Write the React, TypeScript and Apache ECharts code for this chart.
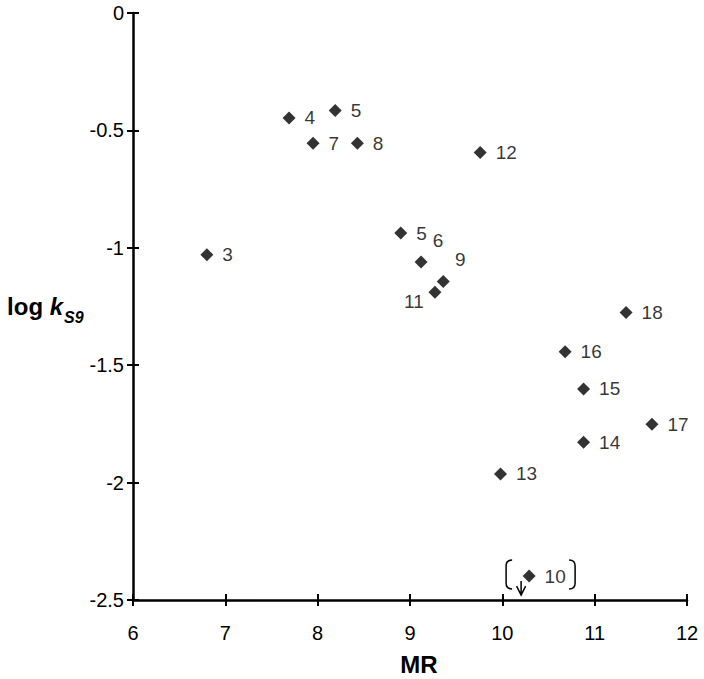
import React, { useEffect, useRef } from "react";
import * as echarts from "echarts";

// ---- data ----
const pointLabels = ["3", "4", "5", "7", "8", "12", "5", "6", "9", "11", "13", "14", "15", "16", "17", "18", "10"];
const mrValues = [6.8, 7.69, 8.19, 7.95, 8.43, 9.76, 8.9, 9.12, 9.36, 9.27, 9.98, 10.88, 10.88, 10.68, 11.62, 11.34, 10.29];
const logKValues = [-1.03, -0.447, -0.415, -0.555, -0.555, -0.594, -0.937, -1.061, -1.144, -1.189, -1.963, -1.828, -1.601, -1.443, -1.751, -1.276, -2.398];
// points shown as upper limits (bracketed, with a down arrow)
const upperLimitIdx = [16];

const xMin = 6, xMax = 12, xStep = 1;
const yMin = -2.5, yMax = 0, yStep = 0.5;
const xTitle = "MR";

// label placement tweaks (style, by point index)
const labelOffsets: Record<number, [number, number]> = {
  7: [17, -22],
  8: [17, -22],
  9: [-21, 9],
};

const FONT = "'Liberation Sans', Arial, sans-serif";

export default function App() {
  const ref = useRef<HTMLDivElement>(null);
  useEffect(() => {
    document.body.style.margin = "0";
    const chart = echarts.init(ref.current!, null, { renderer: "svg" });
    const data = mrValues.map((x, i) => {
      const item: any = { value: [x, logKValues[i]], name: pointLabels[i] };
      const off = labelOffsets[i];
      if (off) {
        item.label = { position: "inside", offset: off, align: "center", verticalAlign: "middle" };
      }
      return item;
    });
    const ulData = upperLimitIdx.map((i) => [mrValues[i], logKValues[i]]);
    const axisLine = { show: true, onZero: false, lineStyle: { color: "#000", width: 2.5 } };
    const tickStyle = { color: "#000", width: 2 };
    chart.setOption({
      animation: false,
      textStyle: { fontFamily: FONT },
      grid: { left: 133, right: 17, top: 13, bottom: 79, outerBoundsMode: "none" },
      xAxis: [
        {
          type: "value", position: "bottom", min: xMin, max: xMax, interval: xStep,
          axisLine, axisTick: { show: true, length: 6, lineStyle: tickStyle },
          splitLine: { show: false },
          axisLabel: { fontSize: 20, color: "#000", margin: 23, fontFamily: FONT },
          name: xTitle, nameLocation: "middle", nameGap: 52,
          nameTextStyle: { fontSize: 24, fontWeight: "bold", color: "#000", fontFamily: FONT, padding: [0, 0, 0, 18] },
        },
        {
          type: "value", position: "bottom", min: xMin, max: xMax, interval: xStep,
          axisLine: { show: false, onZero: false }, axisTick: { show: true, inside: true, length: 6, lineStyle: tickStyle },
          axisLabel: { show: false }, splitLine: { show: false },
        },
      ],
      yAxis: [
        {
          type: "value", position: "left", min: yMin, max: yMax, interval: yStep,
          axisLine, axisTick: { show: true, length: 6, lineStyle: tickStyle },
          splitLine: { show: false },
          axisLabel: { fontSize: 20, color: "#000", margin: 9, fontFamily: FONT },
          name: "{a|log }{b|k}{c|S9}", nameLocation: "middle", nameRotate: 0, nameGap: 46,
          nameTextStyle: {
            fontFamily: FONT,
            rich: {
              a: { fontSize: 24, fontWeight: "bold", color: "#000", fontFamily: FONT, lineHeight: 24 },
              b: { fontSize: 24, fontWeight: "bold", fontStyle: "italic", color: "#000", fontFamily: FONT, lineHeight: 24 },
              c: { fontSize: 16, fontWeight: "bold", fontStyle: "italic", color: "#000", fontFamily: FONT, lineHeight: 16, padding: [22, 0, 0, 1] },
            },
          },
        },
        {
          type: "value", position: "left", min: yMin, max: yMax, interval: yStep,
          axisLine: { show: false, onZero: false }, axisTick: { show: true, inside: true, length: 6, lineStyle: tickStyle },
          axisLabel: { show: false }, splitLine: { show: false },
        },
      ],
      series: [
        {
          type: "scatter",
          xAxisIndex: 0, yAxisIndex: 0,
          symbol: "diamond", symbolSize: 13,
          itemStyle: { color: "#000" },
          label: {
            show: true, position: "right", distance: 9, formatter: "{b}",
            fontSize: 19, color: "#000", fontFamily: FONT,
          },
          data,
          z: 3,
        },
        {
          type: "custom",
          xAxisIndex: 0, yAxisIndex: 0,
          silent: true,
          data: ulData,
          renderItem: (params: any, api: any) => {
            const [cx, cy] = api.coord([api.value(0), api.value(1)]);
            const lb = `M${cx - 17} ${cy - 16} Q${cx - 23} ${cy - 16} ${cx - 23} ${cy - 10} L${cx - 23} ${cy + 7} Q${cx - 23} ${cy + 13} ${cx - 17} ${cy + 13}`;
            const rb = `M${cx + 40} ${cy - 16} Q${cx + 46} ${cy - 16} ${cx + 46} ${cy - 10} L${cx + 46} ${cy + 7} Q${cx + 46} ${cy + 13} ${cx + 40} ${cy + 13}`;
            const arrow = `M${cx - 8} ${cy + 5} L${cx - 8} ${cy + 19} M${cx - 12.5} ${cy + 10} L${cx - 8} ${cy + 19} L${cx - 3.5} ${cy + 10}`;
            const st = { stroke: "#000", fill: null, lineWidth: 1.5 };
            return {
              type: "group",
              children: [
                { type: "path", shape: { pathData: lb }, style: st },
                { type: "path", shape: { pathData: rb }, style: st },
                { type: "path", shape: { pathData: arrow }, style: st },
              ],
            };
          },
          z: 2,
        },
      ],
    });
    return () => chart.dispose();
  }, []);
  return <div ref={ref} style={{ width: 704, height: 679 }} />;
}
